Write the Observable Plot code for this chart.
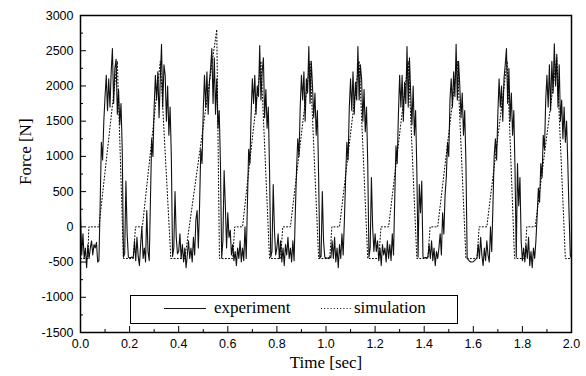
<!DOCTYPE html>
<html>
<head>
<meta charset="utf-8">
<script src="https://cdn.jsdelivr.net/npm/d3@7"></script>
<script src="https://cdn.jsdelivr.net/npm/@observablehq/plot@0.6"></script>
<style>
  html, body { margin: 0; padding: 0; background: #fff; }
  #wrap { position: relative; width: 586px; height: 376px; }
  #legend { position: absolute; left: 130px; top: 295px; width: 328px; height: 29px;
            border: 1px solid #000; box-sizing: border-box; background: #fff; }
  #legend text { font-family: "Liberation Serif", "Times New Roman", serif; font-size: 17px; fill: #000; }
</style>
</head>
<body>
<div id="wrap">
  <div id="legend">
    <svg width="326" height="27">
      <line x1="33" x2="75" y1="12.5" y2="12.5" stroke="#111" stroke-width="1"></line>
      <text x="83" y="17">experiment</text>
      <line x1="190" x2="220" y1="12.5" y2="12.5" stroke="#000" stroke-width="1" stroke-dasharray="1,2.2"></line>
      <text x="223" y="17">simulation</text>
    </svg>
  </div>
</div>
<script>
// ---- tick values ----
const xMajor = [0, 0.2, 0.4, 0.6, 0.8, 1.0, 1.2, 1.4, 1.6, 1.8, 2.0];
const xMinor = [0.1, 0.3, 0.5, 0.7, 0.9, 1.1, 1.3, 1.5, 1.7, 1.9];
const yMajor = [-1500, -1000, -500, 0, 500, 1000, 1500, 2000, 2500, 3000];
const yMinor = [-1250, -750, -250, 250, 750, 1250, 1750, 2250, 2750];

// ---- experiment: force samples, every 0.005 s starting at 0 s (one list per 0.2 s cycle) ----
const expStart = 0;
const expStep = 0.005;
const expCycle0 = [150,-400,-100,-450,-300,-580,-250,-450,-300,-200,-400,-250,-300,-220,-500,-480,
  300,1200,950,1500,1850,2150,1650,2100,1700,2200, 2530,
  1750,2250,2380,1600,1950,1450,1750,1100,-430,-380,650,-100,-430];
const expCycle1 = [-440,-435,-430,-440,-200,-480,-150,-420,-550,-250,0,-450,-300,-500,230,-350,-480,
  400,1250,1000,1700,2150,1800,2200,1550,2100, 2590,
  1700,2300,2150,1500,2000,1300,1700,1000,-420,-300,500,-150,-380];
const expCycle2 = [-350,-100,-450,-250,-500,-300,-580,-400,-200,-450,-300,-500,-150,-400,100,230,-300,
  300,1100,900,1650,2150,1700,2200,1600,2050,2250, 2530,
  1750,2400,1600,2100,1400,1650,900,-440,-200,800,300,-300];
const expCycle3 = [200,-150,-50,-400,-250,-480,-350,-550,-300,-450,-200,-500,-300,-480,0,-450,
  350,1100,900,1600,2100,1750,2150,1600,2000,1850, 2575,
  1800,2200,2400,1550,1950,1400,1700,800,-430,-350,600,-50,-400];
const expCycle4 = [-300,-100,-450,-200,-500,-300,-550,-250,-400,-150,-450,-300,-500,-200,-480,
  200,800,1250,1000,1700,2150,1800,2200,1500,2100,1900, 2560,
  1750,2350,2000,1550,1900,1300,1650,700,-440,-420,500,-200,-430];
const expCycle5 = [-440,-445,-440,-430,-440,-200,-450,-150,-500,-300,-580,-250,-450,-100,-400,
  100,700,1200,950,1700,2100,1650,2200,1600,2050,1800, 2560,
  1800,2300,2100,1500,1950,1350,1700,900,-430,-300,700,0,-350];
const expCycle6 = [-100,-350,-200,-480,-300,-550,-250,-400,-300,-500,-200,-450,-250,-480,-100,-400,
  400,1150,900,1600,2150,1700,2150,1500,2050,1750, 2560,
  1700,2400,1900,1450,2000,1300,1650,800,-430,600,200,650,-430];
const expCycle7 = [-440,-435,-440,-430,-250,-450,-200,-480,-300,-550,-350,-450,-300,-100,-400,200,-100,
  450,700,1200,1000,1800,2100,1700,2200,1850, 2590,
  1800,2350,2000,1550,1900,1300,1650,900,-440,-470,-490,-500,-500];
const expCycle8 = [-495,-480,-460,-440,-250,-450,-150,-400,-550,-300,-480,-200,-400,-500,0,-350,
  300,1000,1250,950,1600,2100,1700,2000,1500,2100,2300, 2530,
  1750,2250,1500,1900,1300,1650,800,-430,900,300,700,-200];
const expCycle9 = [-480,-300,-500,-250,-450,-150,-550,-350,-580,-300,-450,-200,
  150,550,350,900,700,1300,1100,1800,2150,1700,2300,1650,2350,1900, 2600,
  2000,2450,1700,2300,1500,1800,1250,1700,1200,1500,900,200,-400,-450];

// ---- simulation: breakpoints ----
const simTime = [0, 0.030, 0.034, 0.075, 0.150, 0.175, 0.215, 0.224, 0.252, 0.325,
  0.368, 0.425, 0.555, 0.566, 0.620, 0.628, 0.660, 0.735, 0.770, 0.815,
  0.824, 0.855, 0.935, 0.970, 1.015, 1.024, 1.055, 1.135, 1.170, 1.215,
  1.224, 1.255, 1.335, 1.370, 1.415, 1.424, 1.455, 1.535, 1.570, 1.615,
  1.624, 1.655, 1.738, 1.768, 1.810, 1.818, 1.852, 1.940, 1.975, 2.0];
const simForce = [-450, -450, 0, 0, 2350, -450, -450, 0, 0, 2350,
  -450, -450, 2800, -450, -450, 0, 0, 2350, -450, -450,
  0, 0, 2350, -450, -450, 0, 0, 2350, -450, -450,
  0, 0, 2350, -450, -450, 0, 0, 2350, -450, -450,
  0, 0, 2350, -450, -450, 0, 0, 2400, -450, -450];

// ---- tables ----
const expForce = [].concat(expCycle0, expCycle1, expCycle2, expCycle3, expCycle4,
                           expCycle5, expCycle6, expCycle7, expCycle8, expCycle9);
const expData = expForce.map((f, i) => ({t: +(expStart + i * expStep).toFixed(3), f}));
const simData = simTime.map((t, i) => ({t, f: simForce[i]}));

const W = 586, H = 376, mL = 80, mR = 15, mT = 15, mB = 44;
const fw = W - mL - mR, fh = H - mT - mB;
const serif = "'Liberation Serif', 'Times New Roman', serif";

const chart = Plot.plot({
  width: W, height: H,
  marginLeft: mL, marginRight: mR, marginTop: mT, marginBottom: mB,
  style: {fontFamily: "'Liberation Sans', Arial, sans-serif", fontSize: "12.5px", background: "#fff", color: "#000"},
  x: {domain: [0, 2], axis: null},
  y: {domain: [-1500, 3000], axis: null},
  marks: [
    Plot.line(expData, {x: "t", y: "f", stroke: "#111", strokeWidth: 1.1}),
    Plot.line(simData, {x: "t", y: "f", stroke: "#000", strokeWidth: 1, strokeDasharray: "1,2.2"}),
    Plot.frame({stroke: "#000", strokeWidth: 1.5}),
    Plot.tickX(xMajor, {x: d => d, insetTop: fh - 6, stroke: "#000"}),
    Plot.tickX(xMinor, {x: d => d, insetTop: fh - 3, stroke: "#000"}),
    Plot.tickY(yMajor, {y: d => d, insetRight: fw - 6, stroke: "#000"}),
    Plot.tickY(yMinor, {y: d => d, insetRight: fw - 3, stroke: "#000"}),
    Plot.axisX(xMajor, {tickSize: 0, tickPadding: 7, tickFormat: d => d.toFixed(1), label: null}),
    Plot.axisY(yMajor, {tickSize: 0, tickPadding: 7, tickFormat: d => String(d), label: null}),
    Plot.text(["Time [sec]"], {frameAnchor: "bottom", dy: 35, fontFamily: serif, fontSize: 17, fill: "#000"}),
    Plot.text(["Force [N]"], {frameAnchor: "left", dx: -55, dy: 11, rotate: -90, fontFamily: serif, fontSize: 17, fill: "#000"})
  ]
});
document.getElementById("wrap").prepend(chart);
</script>
</body>
</html>
